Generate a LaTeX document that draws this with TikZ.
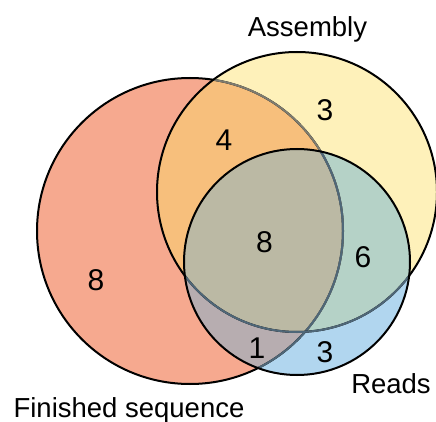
\documentclass[tikz,border=0pt]{standalone}
\usepackage{fontspec}
\setmainfont{Liberation Sans}
\definecolor{cR}{HTML}{F6A98F}
\definecolor{cY}{HTML}{FEF1BA}
\definecolor{cB}{HTML}{B1D6EF}
\definecolor{cRY}{HTML}{F7BF7C}
\definecolor{cYB}{HTML}{B5D2C7}
\definecolor{cRB}{HTML}{B7ADB0}
\definecolor{cRYB}{HTML}{BBB9A4}
\definecolor{lGrey}{HTML}{7E7C70}
\definecolor{lBlue}{HTML}{4F6778}
\begin{document}
\begin{tikzpicture}[x=1pt,y=-1pt,
  outline/.style={line width=2pt},
  lbl/.style={font=\fontsize{27.5}{32}\selectfont, inner sep=0pt},
  num/.style={font=\fontsize{30}{34}\selectfont, inner sep=0pt}]
\useasboundingbox (0,0) rectangle (436,422);
\def\Rc{(190,231) circle[radius=153pt]}
\def\Yc{(297,192) circle[radius=140pt]}
\def\Bc{(297,262) circle[radius=113pt]}
% base fills
\fill[cR] \Rc;
\fill[cY] \Yc;
\fill[cB] \Bc;
\begin{scope}\clip \Rc; \fill[cRY] \Yc; \end{scope}
\begin{scope}\clip \Rc; \fill[cRB] \Bc; \end{scope}
\begin{scope}\clip \Yc; \fill[cYB] \Bc; \end{scope}
\begin{scope}\clip \Rc; \clip \Yc; \fill[cRYB] \Bc; \end{scope}
% outlines
\draw[outline, black] \Rc;
\begin{scope}\clip \Yc; \draw[outline, lGrey] \Rc; \end{scope}
\begin{scope}\clip \Bc; \draw[outline, lBlue] \Rc; \end{scope}
\draw[outline, black] \Yc;
\begin{scope}\clip \Bc; \draw[outline, lBlue] \Yc; \end{scope}
\draw[outline, black] \Bc;
% labels
\node[lbl, anchor=base] (lA) at (307.5,37) {Assembly};
\node[lbl, anchor=base] (lF) at (129,417) {Finished sequence};
\node[lbl, anchor=base] (lR) at (391,393) {Reads};
% numbers
\node[num] (nY) at (325,110) {3};
\node[num] (nRY) at (224,140) {4};
\node[num] (nRYB) at (264.5,242.5) {8};
\node[num] (nYB) at (363,257) {6};
\node[num] (nR) at (96,280) {8};
\node[num] (nRB) at (257,348) {1};
\node[num] (nB) at (325,352) {3};
\end{tikzpicture}
\end{document}
